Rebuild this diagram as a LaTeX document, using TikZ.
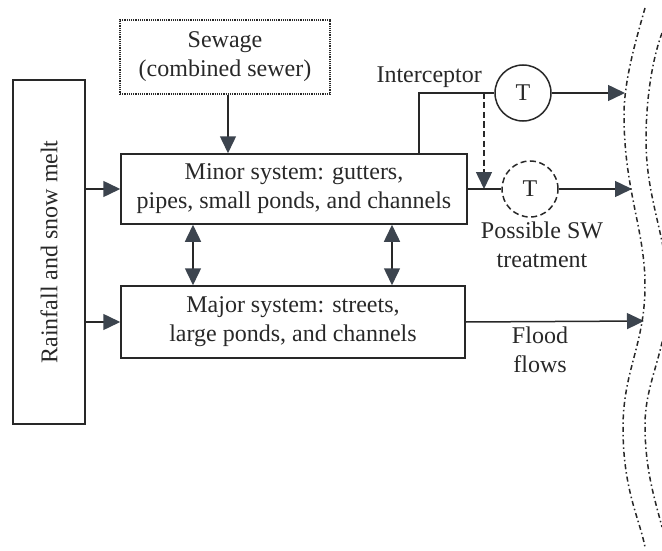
\documentclass[tikz,border=0pt]{standalone}
\usepackage{fontspec}
\setmainfont{Liberation Serif}
\usetikzlibrary{arrows.meta}
\definecolor{inkc}{RGB}{40,40,40}
\definecolor{headc}{RGB}{60,68,78}
\begin{document}
\begin{tikzpicture}[x=1pt,y=-1pt,
  every node/.style={font=\fontsize{24}{29}\selectfont, text=inkc},
  boxnode/.style={draw=inkc, line width=1.5pt, inner sep=0pt, align=center},
  tnode/.style={circle, draw=inkc, line width=1.5pt, minimum size=56pt, inner sep=0pt},
  plain/.style={draw=inkc, line width=1.5pt},
  flow/.style={plain, -{Triangle[length=17pt,width=16pt,color=headc]}},
  twoway/.style={plain, {Triangle[length=17pt,width=16pt,color=headc]}-{Triangle[length=17pt,width=16pt,color=headc]}},
  bank/.style={draw=inkc, line width=1.5pt, dash pattern=on 5pt off 3pt on 1.5pt off 3pt}
]
\clip (0,0) rectangle (662,551);

% source and system boxes
\node[boxnode, minimum width=72pt, minimum height=344pt] (rain) at (49,252) {\rotatebox{90}{Rainfall and snow melt}};
\node[boxnode, line width=1.2pt, dash pattern=on 1.2pt off 1pt, minimum width=210pt, minimum height=74pt] (sewage) at (225,57) {Sewage\\(combined sewer)};
\node[boxnode, minimum width=346pt, minimum height=70pt] (minor) at (294,189) {Minor system: gutters,\\pipes, small ponds, and channels};
\node[boxnode, minimum width=344pt, minimum height=72pt] (major) at (293,322) {Major system: streets,\\large ponds, and channels};

% treatment units
\node[tnode] (t1) at (523,93) {T};
\node[tnode, dash pattern=on 6pt off 3.5pt] (t2) at (530,189) {T};

% labels
\node[anchor=east, inner sep=0pt] (intlab) at (482,77) {Interceptor};
\node[align=center, inner sep=0pt] (swlab) at (542,245) {Possible SW\\treatment};
\node[align=center, inner sep=0pt] (floodlab) at (540,350) {Flood\\flows};

% outfall points on the receiving water
\coordinate (w1) at (625,93);
\coordinate (w2) at (632,189);
\coordinate (w3) at (644,321);
\coordinate (split) at (484,93);

% connectors
\draw[flow] ([xshift=3pt]sewage.south) -- ([xshift=3pt]sewage.south |- minor.north);
\draw[flow] (rain.east |- minor.west) -- (minor.west);
\draw[flow] (rain.east |- major.west) -- (major.west);
\draw[twoway] ([xshift=-101pt]minor.south) -- ([xshift=-101pt]minor.south |- major.north);
\draw[twoway] ([xshift=98pt]minor.south) -- ([xshift=98pt]minor.south |- major.north);
\draw[plain] ([xshift=125pt]minor.north) |- (t1.west);
\draw[flow, dash pattern=on 6pt off 3.5pt] (split) -- (split |- t2.west);
\draw[plain] (minor.east) -- (t2.west);
\draw[flow] (t1.east) -- (w1);
\draw[flow] (t2.east) -- (w2);
\draw[flow] (major.east) -- (w3);

% banks of the receiving water
\draw[bank] (645,8) .. controls (636,40) and (624,80) .. (624,115)
  .. controls (624,190) and (645,230) .. (645,285)
  .. controls (645,345) and (623,370) .. (623,428)
  .. controls (623,490) and (640,520) .. (645,547);
\draw[bank] (662,33) .. controls (652,60) and (646,100) .. (646,140)
  .. controls (646,200) and (668,240) .. (668,293)
  .. controls (668,350) and (645,380) .. (645,425)
  .. controls (645,470) and (655,500) .. (662,527);
\end{tikzpicture}
\end{document}
